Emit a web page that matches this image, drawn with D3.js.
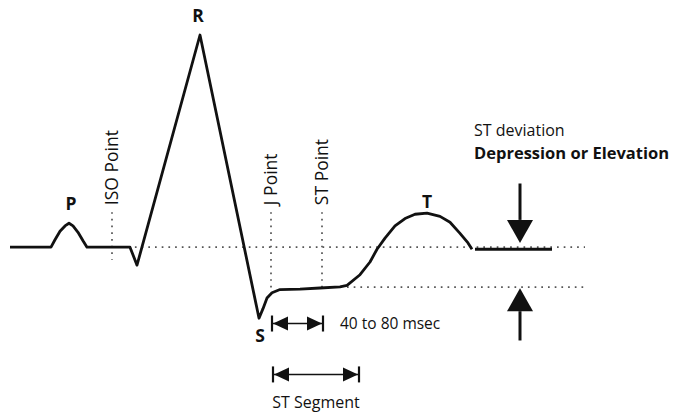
<!DOCTYPE html>
<html>
<head>
<meta charset="utf-8">
<script src="https://cdn.jsdelivr.net/npm/d3@7"></script>
<style>
  html, body { margin: 0; padding: 0; background: #fff; }
  svg { display: block; }
  text { font-family: "Open Sans", "Noto Sans", sans-serif; fill: #111; }
</style>
</head>
<body>
<svg id="chart" width="678" height="413"></svg>
<script>
// ECG trace: time (arbitrary ms units) and amplitude (mV)
const traceT = [0, 41, 45, 50, 55, 59, 63, 68, 73, 77, 120, 127, 190, 249, 253, 257, 262, 270, 290, 310, 330, 337, 350, 360, 367, 375, 385, 395, 405, 417, 430, 440, 450, 458, 462];
const traceV = [0, 0, 0.07, 0.15, 0.2, 0.225, 0.2, 0.14, 0.06, 0, 0, -0.17, 2.0, -0.67, -0.58, -0.48, -0.43, -0.40, -0.395, -0.385, -0.375, -0.36, -0.26, -0.14, -0.02, 0.085, 0.2, 0.27, 0.31, 0.32, 0.29, 0.235, 0.13, 0.04, -0.02];

// ST deviation level segment
const devT = [465, 542];
const devV = [-0.02, -0.02];

// Wave labels
const waveNames = ["P", "R", "S", "T"];
const waveT = [61, 188, 250, 417];
const waveV = [0.225, 2.0, -0.67, 0.32];

// Reference points (vertical dotted markers)
const markerNames = ["ISO Point", "J Point", "ST Point"];
const markerT = [102, 261, 312];
const markerBottom = [-0.12, -0.405, -0.42];
const markerTop = 0.33;

// Horizontal reference levels
const isoLevel = 0;
const stLevel = -0.377;
const isoLineT = [78, 575];
const stLineT = [337, 575];

// Interval annotations
const intervalNames = ["40 to 80 msec", "ST Segment"];
const intervalStart = [262, 263];
const intervalEnd = [313, 349];
const intervalV = [-0.72, -1.2];

// ST deviation arrows
const devArrowT = 510;
const devTitle = "ST deviation";
const devSubtitle = "Depression or Elevation";

const svg = d3.select("#chart");
const x = d3.scaleLinear().domain([0, 575]).range([10, 585]);
const y = d3.scaleLinear().domain([-0.8, 2.0]).range([332, 35]);

const dotted = { stroke: "#555", width: 1.7, dash: "1.7,5" };

// horizontal dotted lines
[[isoLineT, isoLevel], [stLineT, stLevel]].forEach(([tt, v]) => {
  svg.append("line")
    .attr("x1", x(tt[0])).attr("x2", x(tt[1]))
    .attr("y1", y(v)).attr("y2", y(v))
    .attr("stroke", dotted.stroke).attr("stroke-width", dotted.width)
    .attr("stroke-dasharray", dotted.dash);
});

// vertical dotted markers + rotated labels
markerNames.forEach((name, i) => {
  svg.append("line")
    .attr("x1", x(markerT[i])).attr("x2", x(markerT[i]))
    .attr("y1", y(markerTop)).attr("y2", y(markerBottom[i]))
    .attr("stroke", dotted.stroke).attr("stroke-width", dotted.width)
    .attr("stroke-dasharray", dotted.dash);
  const tx = x(markerT[i]) + 6, ty = y(markerTop) - 7;
  svg.append("text")
    .attr("transform", `translate(${tx},${ty}) rotate(-90)`)
    .attr("font-size", 17.5)
    .text(name);
});

// trace
const line = d3.line().x(d => x(d[0])).y(d => y(d[1]));
svg.append("path")
  .datum(traceT.map((t, i) => [t, traceV[i]]))
  .attr("d", line)
  .attr("fill", "none").attr("stroke", "#111")
  .attr("stroke-width", 2.8).attr("stroke-linejoin", "round");
svg.append("path")
  .datum(devT.map((t, i) => [t, devV[i]]))
  .attr("d", line)
  .attr("fill", "none").attr("stroke", "#111").attr("stroke-width", 2.8);

// wave labels
const waveDy = [-13, -13, 24, -5];
const waveDx = [0, 0, 0, 0];
waveNames.forEach((n, i) => {
  svg.append("text")
    .attr("x", x(waveT[i]) + waveDx[i])
    .attr("y", y(waveV[i]) + waveDy[i])
    .attr("text-anchor", "middle")
    .attr("font-size", 17.5).attr("font-weight", "bold")
    .text(n);
});

// interval arrows
function dblArrow(x1, x2, yy) {
  const g = svg.append("g");
  g.append("line").attr("x1", x1).attr("x2", x2).attr("y1", yy).attr("y2", yy)
    .attr("stroke", "#111").attr("stroke-width", 1.6);
  [x1, x2].forEach(xx => g.append("line").attr("x1", xx).attr("x2", xx)
    .attr("y1", yy - 8).attr("y2", yy + 8).attr("stroke", "#111").attr("stroke-width", 2.2));
  g.append("path").attr("d", `M${x1 + 1},${yy} L${x1 + 16},${yy - 7} L${x1 + 16},${yy + 7} Z`).attr("fill", "#111");
  g.append("path").attr("d", `M${x2 - 1},${yy} L${x2 - 16},${yy - 7} L${x2 - 16},${yy + 7} Z`).attr("fill", "#111");
}
intervalNames.forEach((n, i) => {
  const x1 = x(intervalStart[i]), x2 = x(intervalEnd[i]), yy = y(intervalV[i]);
  dblArrow(x1, x2, yy);
  if (i === 0) {
    svg.append("text").attr("x", x2 + 17).attr("y", yy + 5)
      .attr("font-size", 15.5).text(n);
  } else {
    svg.append("text").attr("x", (x1 + x2) / 2).attr("y", yy + 34)
      .attr("text-anchor", "middle").attr("font-size", 16).text(n);
  }
});

// ST deviation arrows
function vArrow(xx, yFrom, yTip) {
  const dir = yTip > yFrom ? 1 : -1;
  const base = yTip - dir * 23;
  svg.append("line").attr("x1", xx).attr("x2", xx).attr("y1", yFrom).attr("y2", base)
    .attr("stroke", "#111").attr("stroke-width", 3);
  svg.append("path").attr("d", `M${xx},${yTip} L${xx - 13},${base} L${xx + 13},${base} Z`).attr("fill", "#111");
}
vArrow(x(devArrowT), y(0.6), y(0.04));
vArrow(x(devArrowT), y(-0.88), y(stLevel - 0.01));

svg.append("text").attr("x", 474).attr("y", 136).attr("font-size", 16).text(devTitle);
svg.append("text").attr("x", 474).attr("y", 159).attr("font-size", 16.5).attr("font-weight", "bold").text(devSubtitle);
</script>
</body>
</html>
